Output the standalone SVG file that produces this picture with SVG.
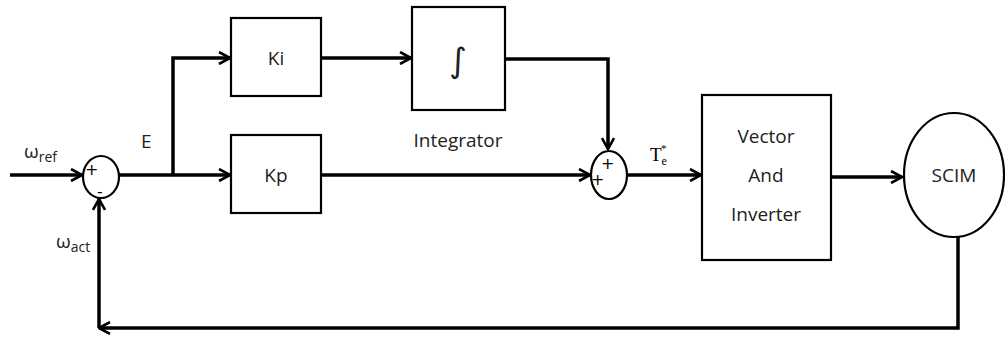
<svg xmlns="http://www.w3.org/2000/svg" width="1005" height="337" viewBox="0 0 1005 337">
<style>
.box{fill:#fff;stroke:#000;stroke-width:2.2}
.sum{fill:#fff;stroke:#000;stroke-width:2.2}
.wire{fill:none;stroke:#000;stroke-width:3.5}
.t{font-family:"Open Sans","Liberation Sans",sans-serif;font-size:19px;fill:#222}
.s{font-family:"DejaVu Sans",sans-serif;font-size:16px;fill:#000}
</style>
<defs>
<marker id="ah" viewBox="0 0 14 14" refX="13" refY="7" markerWidth="14" markerHeight="14" markerUnits="userSpaceOnUse" orient="auto">
<path d="M2,1 L13,7 L2,13" fill="none" stroke="#000" stroke-width="2.6"/>
</marker>
</defs>
<rect width="1005" height="337" fill="#fff"/>
<g id="connectors">
<path class="wire" d="M10,175 H82" marker-end="url(#ah)"/>
<path class="wire" d="M119,175 H230" marker-end="url(#ah)"/>
<path class="wire" d="M173,175 V58 H230" marker-end="url(#ah)"/>
<path class="wire" d="M321,58 H411" marker-end="url(#ah)"/>
<path class="wire" d="M505,59 H608 V149" marker-end="url(#ah)"/>
<path class="wire" d="M321,175 H590" marker-end="url(#ah)"/>
<path class="wire" d="M628,175 H701" marker-end="url(#ah)"/>
<path class="wire" d="M831,177 H902" marker-end="url(#ah)"/>
<path class="wire" d="M958,237 V328 H99" marker-end="url(#ah)"/>
<path class="wire" d="M99,328 V199" marker-end="url(#ah)"/>
</g>
<g id="sum1">
<ellipse class="sum" cx="101" cy="177" rx="18" ry="21"/>
<text class="s" x="85" y="175">+</text>
<text class="s" x="97" y="197">-</text>
</g>
<g id="ki">
<rect class="box" x="231" y="18" width="90" height="78"/>
<text class="t" x="276" y="65" text-anchor="middle">Ki</text>
</g>
<g id="kp">
<rect class="box" x="231" y="135" width="90" height="78"/>
<text class="t" x="276" y="182" text-anchor="middle">Kp</text>
</g>
<g id="integrator">
<rect class="box" x="412" y="7" width="93" height="103"/>
<text x="458" y="72" text-anchor="middle" font-family="DejaVu Sans,sans-serif" font-size="34" fill="#222">∫</text>
<text class="t" x="458" y="147" text-anchor="middle">Integrator</text>
</g>
<g id="sum2">
<ellipse class="sum" cx="609" cy="175" rx="18" ry="24"/>
<text class="s" x="601" y="169">+</text>
<text class="s" x="591" y="185">+</text>
</g>
<g id="vector">
<rect class="box" x="702" y="95" width="129" height="165"/>
<text class="t" x="766" y="143" text-anchor="middle">Vector</text>
<text class="t" x="766" y="182" text-anchor="middle">And</text>
<text class="t" x="766" y="221" text-anchor="middle">Inverter</text>
</g>
<g id="scim">
<ellipse class="sum" cx="954" cy="175" rx="50" ry="62"/>
<text class="t" x="954" y="182" text-anchor="middle">SCIM</text>
</g>
<g id="labels">
<text class="t" x="24" y="158">ω<tspan font-size="14" dy="4">ref</tspan></text>
<text class="t" x="56" y="248">ω<tspan font-size="14" dy="4">act</tspan></text>
<text class="t" x="141" y="148">E</text>
<text font-family="Liberation Serif,serif" font-size="19" x="650" y="161">T<tspan font-size="12" dy="4">e</tspan><tspan font-size="11" dx="-6" dy="-13">*</tspan></text>
</g>
</svg>
